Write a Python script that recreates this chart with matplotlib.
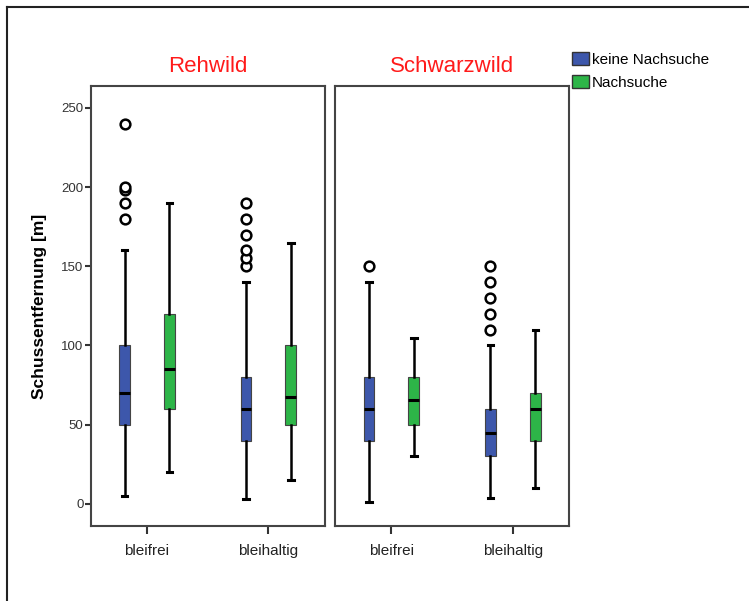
import matplotlib
matplotlib.use("Agg")
import matplotlib.pyplot as plt
from matplotlib.patches import Patch
from matplotlib.lines import Line2D

plt.rcParams['font.family'] = ['Liberation Sans', 'DejaVu Sans']

# data
panels = ["Rehwild", "Schwarzwild"]
categories = ["bleifrei", "bleihaltig"]
series = ["keine Nachsuche", "Nachsuche"]
colors = ["#3d57ab", "#2db548"]

# [panel][category][series] -> (whislo, q1, med, q3, whishi)
summary = [
    [[(5, 50, 70, 100, 160), (20, 60, 85, 120, 190)],
     [(3, 40, 60, 80, 140), (15, 50, 67.5, 100, 165)]],
    [[(1, 40, 60, 80, 140), (30, 50, 65.5, 80, 105)],
     [(4, 30, 45, 60, 100), (10, 40, 60, 70, 110)]],
]
outliers = [
    [[[180, 190, 198, 200, 240], []],
     [[150, 155, 160, 170, 180, 190], []]],
    [[[150], []],
     [[110, 120, 130, 140, 150], []]],
]
yticks = [0, 50, 100, 150, 200, 250]

fig = plt.figure(figsize=(7.49, 6.01), dpi=100)

# outer frame (top and left only visible)
fig.add_artist(Line2D([7 / 749, 1], [1 - 7 / 601] * 2, color="#222222", lw=1.5))
fig.add_artist(Line2D([7 / 749] * 2, [0, 1 - 7 / 601], color="#222222", lw=1.5))

lefts = [90.5 / 749, 335 / 749]
offset = 0.185
for p, name in enumerate(panels):
    ax = fig.add_axes([lefts[p], 0.125, 0.313, 0.732])
    for c in range(len(categories)):
        for s in range(len(series)):
            lo, q1, med, q3, hi = summary[p][c][s]
            st = dict(whislo=lo, q1=q1, med=med, q3=q3, whishi=hi,
                      fliers=outliers[p][c][s])
            pos = c + 1 + (offset if s else -offset)
            ax.bxp([st], positions=[pos], widths=0.09, capwidths=0.045,
                   patch_artist=True, manage_ticks=False,
                   boxprops=dict(facecolor=colors[s], edgecolor="#444444", lw=0.8),
                   medianprops=dict(color="black", lw=2.2),
                   whiskerprops=dict(color="black", lw=1.8),
                   capprops=dict(color="black", lw=2.2),
                   flierprops=dict(marker="o", markersize=7, markerfacecolor="white",
                                   markeredgecolor="black", markeredgewidth=1.8))
    ax.set_xlim(0.535, 2.465)
    ax.set_ylim(-13.9, 263.9)
    ax.set_xticks([1, 2])
    ax.set_xticklabels(categories, fontsize=11, color="#222222")
    ax.tick_params(axis="x", length=6, width=1.5, color="#333333", pad=7)
    if p == 0:
        ax.set_yticks(yticks)
        ax.set_yticklabels([str(v) for v in yticks], fontsize=9.5, color="#333333")
        ax.tick_params(axis="y", length=4, width=1.5, color="#333333", pad=1)
        ax.set_ylabel("Schussentfernung [m]", fontsize=12.5, fontweight="bold",
                      labelpad=10)
    else:
        ax.set_yticks([])
    for sp in ax.spines.values():
        sp.set_color("#444444")
        sp.set_linewidth(1.5)
    ax.set_title(name, color="#ff1a1a", fontsize=16, pad=9.8)

handles = [Patch(facecolor=colors[i], edgecolor="#333333", lw=1) for i in range(2)]
fig.legend(handles, series, loc="upper left", bbox_to_anchor=(572 / 749, 1 - 52 / 601),
           frameon=False, fontsize=11, handlelength=1.1, handleheight=0.92,
           handletextpad=0.2, labelspacing=0.57, borderaxespad=0, borderpad=0)

fig.savefig("out.png", dpi=100)
